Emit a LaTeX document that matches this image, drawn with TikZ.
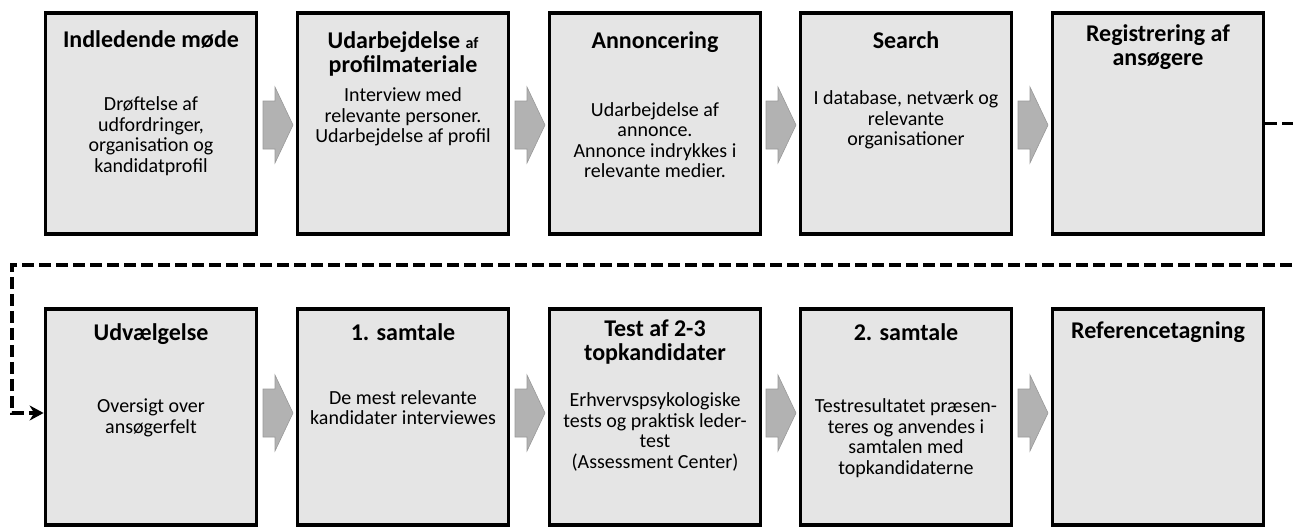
\documentclass[tikz,border=0pt]{standalone}
\usepackage{fontspec}
\setmainfont{Carlito}
\usepackage{tikz}
\usetikzlibrary{arrows.meta,positioning}

% grey block arrow between two stages, centred on a coordinate
\newcommand{\flowarrow}[1]{%
	\filldraw[flow] (#1) ++(-15,-24) -- ++(12,0) -- ++(0,-14) -- ++(18,38)
		-- ++(-18,38) -- ++(0,-14) -- ++(-12,0) -- cycle;
}

\begin{document}
\begin{tikzpicture}[x=1pt,y=-1pt]
	\tikzstyle{stage} = [
	shape=rectangle,
	draw=black,
	line width=3.8pt,
	fill=black!10, %light stippled grey
	minimum width=211pt,
	minimum height=221pt,
	inner sep=0pt
];
	\tikzstyle{title} = [font=\fontsize{24}{24}\selectfont\bfseries, align=center, inner sep=0pt];
	\tikzstyle{body} = [font=\fontsize{20}{20.5}\selectfont, align=center, inner sep=0pt];
	\tikzstyle{flow} = [fill=black!30, draw=black!40, line width=0.6pt];
	\tikzstyle{jump} = [line width=3.8pt, dash pattern=on 12pt off 5pt, -{Stealth[length=14pt,width=15pt]}];

\useasboundingbox (0,0) rectangle (1293,527);

\begin{scope}
	% first row
	\node[stage](Ind) at (151, 123.5) {};
	\node[stage](Uda) at (403, 123.5) {};
	\node[stage](Ann) at (655, 123.5) {};
	\node[stage](Sea) at (906, 123.5) {};
	\node[stage](Reg) at (1158, 123.5) {};
	\coordinate (IndUda) at (278, 125);
	\coordinate (UdaAnn) at (530, 125);
	\coordinate (AnnSea) at (781, 125);
	\coordinate (SeaReg) at (1033, 125);
	\flowarrow{IndUda}
	\flowarrow{UdaAnn}
	\flowarrow{AnnSea}
	\flowarrow{SeaReg}

	\node[title, anchor=north, below=19pt of Ind.north](IndT) {Indledende møde};
	\node[title, anchor=north, below=20pt of Uda.north](UdaT) {Udarbejdelse {\fontsize{16}{16}\selectfont af}\\profilmateriale};
	\node[title, anchor=north, below=20pt of Ann.north](AnnT) {Annoncering};
	\node[title, anchor=north, below=20pt of Sea.north](SeaT) {Search};
	\node[title, anchor=north, below=13pt of Reg.north](RegT) {Registrering af\\ansøgere};

	\node[body](IndB) at (151, 136) {Drøftelse af\\udfordringer,\\organisation og\\kandidatprofil};
	\node[body](UdaB) at (403, 117) {Interview med\\relevante personer.\\Udarbejdelse af profil};
	\node[body](AnnB) at (655, 140) {Udarbejdelse af\\annonce.\\Annonce indrykkes i\\relevante medier.};
	\node[body](SeaB) at (906, 120) {I database, netværk og\\relevante\\organisationer};
\end{scope}

\begin{scope}
	% second row
	\node[stage, minimum height=216pt](Udv) at (151, 417) {};
	\node[stage, minimum height=216pt](Sa1) at (403, 417) {};
	\node[stage, minimum height=216pt](Tes) at (655, 417) {};
	\node[stage, minimum height=216pt](Sa2) at (906, 417) {};
	\node[stage, minimum height=216pt](Ref) at (1158, 417) {};
	\coordinate (UdvSa1) at (278, 413);
	\coordinate (Sa1Tes) at (530, 413);
	\coordinate (TesSa2) at (781, 413);
	\coordinate (Sa2Ref) at (1033, 413);
	\flowarrow{UdvSa1}
	\flowarrow{Sa1Tes}
	\flowarrow{TesSa2}
	\flowarrow{Sa2Ref}

	\node[title, anchor=north, below=16pt of Udv.north](UdvT) {Udvælgelse};
	\node[title, anchor=north, below=16pt of Sa1.north](Sa1T) {1. samtale};
	\node[title, anchor=north, below=13pt of Tes.north](TesT) {Test af 2-3\\topkandidater};
	\node[title, anchor=north, below=16pt of Sa2.north](Sa2T) {2. samtale};
	\node[title, anchor=north, below=14pt of Ref.north](RefT) {Referencetagning};

	\node[body](UdvB) at (151, 418) {Oversigt over\\ansøgerfelt};
	\node[body](Sa1B) at (403, 407.5) {De mest relevante\\kandidater interviewes};
	\node[body](TesB) at (655, 432) {Erhvervspsykologiske\\tests og praktisk leder-\\test\\(Assessment Center)};
	\node[body](Sa2B) at (906, 438) {Testresultatet præsen-\\teres og anvendes i\\samtalen med\\topkandidaterne};
\end{scope}

\coordinate (turnR) at (1310, 265);
\coordinate (turnL) at (12, 265);
\draw [jump] (Reg.east) -| (turnR) -- (turnL) |- ([yshift=4pt]Udv.west);

\end{tikzpicture}
\end{document}
